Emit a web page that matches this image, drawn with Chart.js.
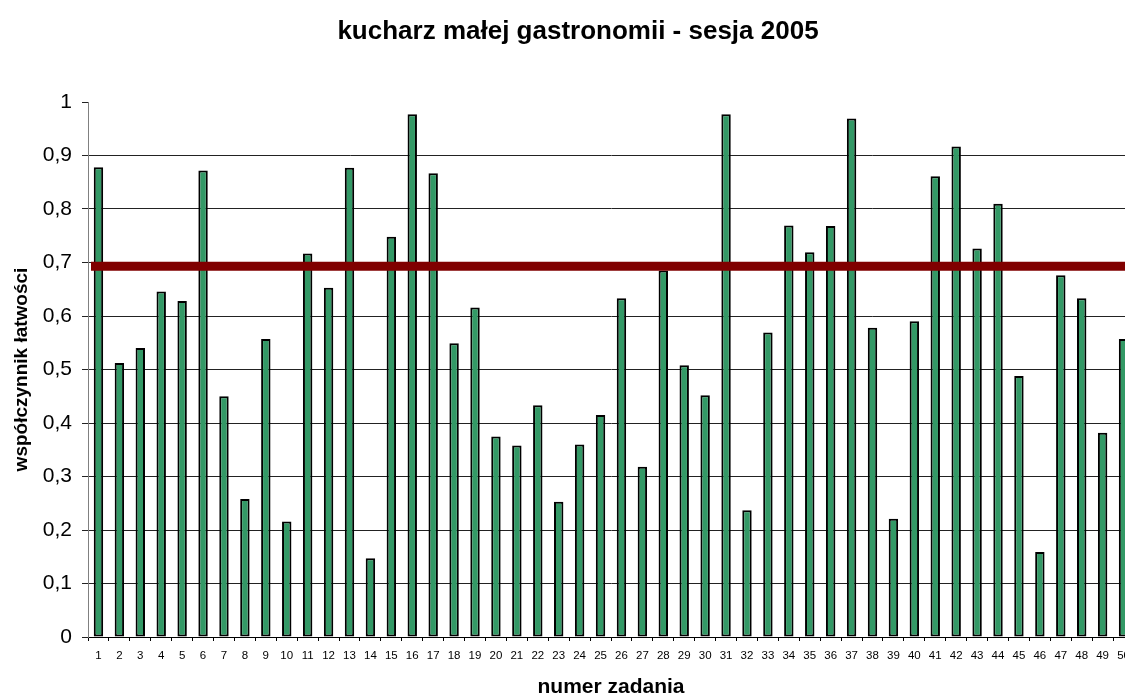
<!DOCTYPE html>
<html>
<head>
<meta charset="utf-8">
<title>kucharz małej gastronomii - sesja 2005</title>
<script src="https://cdn.jsdelivr.net/npm/chart.js@4/dist/chart.umd.min.js"></script>
<style>
    html, body { margin: 0; padding: 0; background: #fff; overflow: hidden; }
    #wrap { width: 1160px; height: 696px; }
</style>
</head>
<body>
<div id="wrap"><canvas id="chart" width="1160" height="696"></canvas></div>
<script>
// Data
const chartTitle = 'kucharz małej gastronomii - sesja 2005';
const xTitle = 'numer zadania';
const yTitle = 'współczynnik łatwości';

const categories = ['1', '2', '3', '4', '5', '6', '7', '8', '9', '10',
    '11', '12', '13', '14', '15', '16', '17', '18', '19', '20',
    '21', '22', '23', '24', '25', '26', '27', '28', '29', '30',
    '31', '32', '33', '34', '35', '36', '37', '38', '39', '40',
    '41', '42', '43', '44', '45', '46', '47', '48', '49', '50'];

const easiness = [0.878, 0.512, 0.540, 0.646, 0.628, 0.872, 0.450, 0.258, 0.557, 0.216,
    0.717, 0.653, 0.877, 0.147, 0.748, 0.977, 0.867, 0.549, 0.616, 0.375,
    0.358, 0.433, 0.253, 0.360, 0.415, 0.633, 0.318, 0.685, 0.508, 0.452,
    0.977, 0.237, 0.569, 0.769, 0.719, 0.768, 0.969, 0.578, 0.221, 0.590,
    0.861, 0.917, 0.726, 0.810, 0.488, 0.159, 0.676, 0.633, 0.382, 0.557];

const threshold = 0.693;

const yTickLabels = ['0', '0,1', '0,2', '0,3', '0,4', '0,5', '0,6', '0,7', '0,8', '0,9', '1'];

const FONT = '"Liberation Sans", Arial, sans-serif';

// Red reference line across the plot
const thresholdLine = {
    id: 'thresholdLine',
    afterDatasetsDraw(chart) {
        const { ctx, chartArea, scales } = chart;
        const y = scales.y.getPixelForValue(threshold);
        ctx.save();
        ctx.strokeStyle = '#800000';
        ctx.lineWidth = 9;
        ctx.beginPath();
        ctx.moveTo(chartArea.left + 3, y);
        ctx.lineTo(chartArea.right, y);
        ctx.stroke();
        ctx.restore();
    }
};

// Main title (the original chart was cropped, so it is not centred on the canvas)
const mainTitle = {
    id: 'mainTitle',
    afterDraw(chart) {
        const ctx = chart.ctx;
        ctx.save();
        ctx.font = 'bold 26px ' + FONT;
        ctx.fillStyle = '#000';
        ctx.textAlign = 'center';
        ctx.textBaseline = 'alphabetic';
        ctx.fillText(chartTitle, 578, 39);
        ctx.restore();
    }
};

new Chart(document.getElementById('chart'), {
    type: 'bar',
    data: {
        labels: categories,
        datasets: [{
            data: easiness,
            backgroundColor: '#339966',
            borderColor: '#000',
            borderWidth: 2,
            borderSkipped: false,
            barPercentage: 0.45,
            categoryPercentage: 1.0
        }]
    },
    options: {
        responsive: false,
        animation: false,
        layout: { padding: { top: 102, right: 26, left: 0, bottom: 0 } },
        plugins: {
            legend: { display: false },
            title: { display: false },
            tooltip: { enabled: false }
        },
        scales: {
            x: {
                afterFit(scale) { scale.height = 59; },
                grid: { drawOnChartArea: false, color: '#000', tickLength: 4 },
                border: { color: '#000', width: 1 },
                ticks: {
                    color: '#000',
                    font: { family: FONT, size: 11.5 },
                    padding: 8,
                    maxRotation: 0,
                    autoSkip: false
                },
                title: {
                    display: true,
                    text: xTitle,
                    color: '#000',
                    font: { family: FONT, size: 21, weight: 'bold', lineHeight: 0.8 },
                    padding: 0
                }
            },
            y: {
                min: 0,
                max: 1,
                afterFit(scale) { scale.width = 88; },
                grid: {
                    color: (c) => (c.tick && c.tick.value >= 1 ? 'rgba(0,0,0,0)' : '#222'),
                    tickColor: '#222',
                    tickLength: 6
                },
                border: { color: '#808080', width: 1 },
                ticks: {
                    stepSize: 0.1,
                    color: '#000',
                    font: { family: FONT, size: 21 },
                    padding: 10,
                    callback: (value, index) => yTickLabels[index]
                },
                title: {
                    display: true,
                    text: yTitle,
                    color: '#000',
                    font: { family: FONT, size: 19, weight: 'bold' },
                    padding: { top: 10, bottom: 0 }
                }
            }
        }
    },
    plugins: [thresholdLine, mainTitle]
});
</script>
</body>
</html>
